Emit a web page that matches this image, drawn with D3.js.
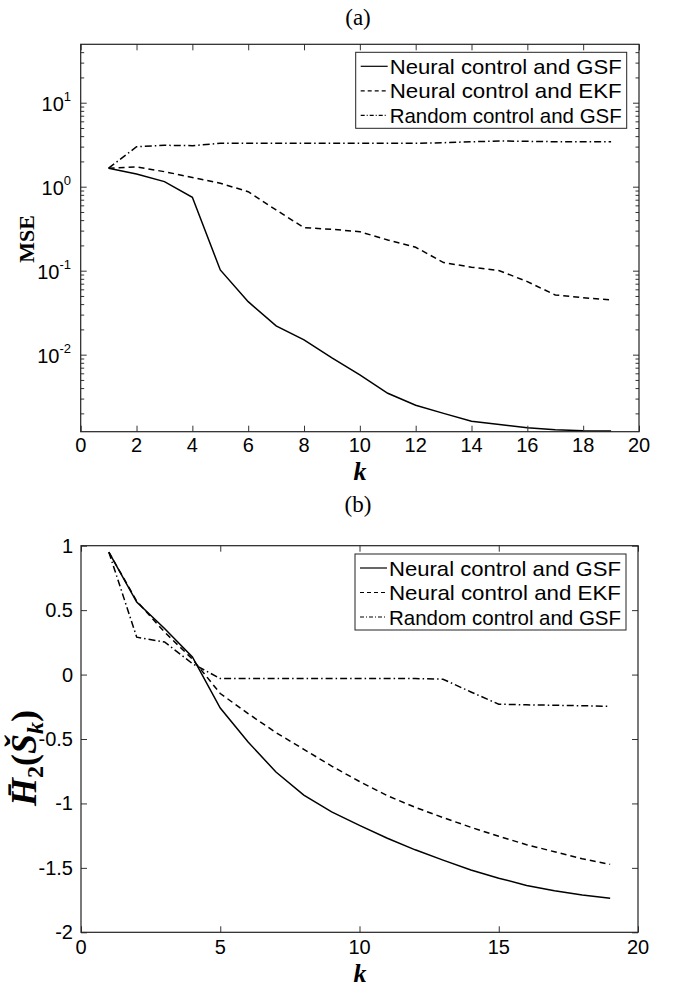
<!DOCTYPE html>
<html>
<head>
<meta charset="utf-8">
<script src="https://cdn.jsdelivr.net/npm/d3@7"></script>
<style>
  body { margin: 0; background: #fff; }
  svg { display: block; }
</style>
</head>
<body>
<div id="chart"></div>
<script>
// ── Data ────────────────────────────────────────────────────
const steps = d3.range(1, 20);   // k = 1..19

// panel (a): MSE
const mseNeuralGSF = [1.66, 1.42, 1.15, 0.748, 0.102, 0.0428, 0.022, 0.015, 0.00914, 0.00573,
                      0.00347, 0.0025, 0.002, 0.00161, 0.00147, 0.00135, 0.00128, 0.00124, 0.00123];
const mseNeuralEKF = [1.66, 1.72, 1.51, 1.29, 1.10, 0.872, 0.528, 0.325, 0.311, 0.291,
                      0.232, 0.19, 0.125, 0.11, 0.1, 0.074, 0.0514, 0.0477, 0.0448];
const mseRandomGSF = [1.66, 2.99, 3.11, 3.08, 3.29, 3.29, 3.29, 3.29, 3.29, 3.29,
                      3.29, 3.29, 3.34, 3.43, 3.5, 3.47, 3.43, 3.43, 3.43];

// panel (b): H2(S_k)
const hNeuralGSF = [0.95, 0.563, 0.357, 0.137, -0.26, -0.523, -0.756, -0.935, -1.065, -1.17,
                    -1.27, -1.36, -1.44, -1.517, -1.58, -1.636, -1.677, -1.71, -1.736];
const hNeuralEKF = [0.95, 0.57, 0.33, 0.12, -0.147, -0.303, -0.45, -0.58, -0.71, -0.83,
                    -0.94, -1.03, -1.11, -1.185, -1.255, -1.32, -1.375, -1.43, -1.473];
const hRandomGSF = [0.95, 0.29, 0.253, 0.085, -0.031, -0.031, -0.031, -0.031, -0.031, -0.031,
                    -0.031, -0.031, -0.036, -0.135, -0.23, -0.235, -0.238, -0.242, -0.246];

const legendLabels = ['Neural control and GSF', 'Neural control and EKF', 'Random control and GSF'];
const dashes = [null, '6,4', '7,3,1.5,3'];

const xTicksA = d3.range(0, 21, 2);
const yTicksA = [1e-2, 1e-1, 1e0, 1e1];
const xTicksB = [0, 5, 10, 15, 20];
const yTicksB = [-2, -1.5, -1, -0.5, 0, 0.5, 1];

// ── Layout ──────────────────────────────────────────────────
const width = 674, height = 990;
const sans  = '"Liberation Sans", Arial, sans-serif';
const serif = '"Liberation Serif", "Times New Roman", serif';

const svg = d3.select('#chart').append('svg')
  .attr('width', width).attr('height', height);

function styleAxis(g) {
  g.select('.domain').remove();
  g.selectAll('.tick line').attr('stroke', '#333').attr('stroke-width', 1);
}

function drawPanel(opt) {
  const { left, right, top, bottom, x, y, series } = opt;

  const g = svg.append('g');

  // lines
  series.forEach((vals, i) => {
    const line = d3.line()
      .x((d, j) => x(steps[j]))
      .y(d => y(d));
    g.append('path')
      .datum(vals)
      .attr('fill', 'none')
      .attr('stroke', '#000')
      .attr('stroke-width', 1.5)
      .attr('stroke-dasharray', dashes[i])
      .attr('d', line);
  });

  // inward ticks on all four sides
  g.append('g').attr('transform', `translate(0,${bottom})`)
    .call(d3.axisBottom(x).tickValues(opt.xTicks).tickSize(-6).tickFormat(''))
    .call(styleAxis);
  g.append('g').attr('transform', `translate(0,${top})`)
    .call(d3.axisTop(x).tickValues(opt.xTicks).tickSize(-6).tickFormat(''))
    .call(styleAxis);
  g.append('g').attr('transform', `translate(${left},0)`)
    .call(d3.axisLeft(y).tickValues(opt.yTicks).tickSize(-6).tickFormat(''))
    .call(styleAxis);
  g.append('g').attr('transform', `translate(${right},0)`)
    .call(d3.axisRight(y).tickValues(opt.yTicks).tickSize(-6).tickFormat(''))
    .call(styleAxis);

  if (opt.minor) {
    g.append('g').attr('transform', `translate(${left},0)`)
      .call(d3.axisLeft(y).tickValues(opt.minor).tickSize(-3.5).tickFormat(''))
      .call(styleAxis);
    g.append('g').attr('transform', `translate(${right},0)`)
      .call(d3.axisRight(y).tickValues(opt.minor).tickSize(-3.5).tickFormat(''))
      .call(styleAxis);
  }

  // box
  g.append('rect')
    .attr('x', left).attr('y', top)
    .attr('width', right - left).attr('height', bottom - top)
    .attr('fill', 'none').attr('stroke', '#222').attr('stroke-width', 1.2);

  // x tick labels
  g.selectAll('.xl').data(opt.xTicks).join('text')
    .attr('x', d => x(d)).attr('y', bottom + opt.xLabelGap)
    .attr('text-anchor', 'middle')
    .attr('font-family', sans).attr('font-size', 20)
    .text(d => d);

  // legend
  const lg = g.append('g').attr('transform', `translate(${opt.legend[0]},${opt.legend[1]})`);
  lg.append('rect')
    .attr('width', 271).attr('height', 76)
    .attr('fill', '#fff').attr('stroke', '#222').attr('stroke-width', 1);
  legendLabels.forEach((lab, i) => {
    const cy = 14 + i * 24.5;
    lg.append('line')
      .attr('x1', 5).attr('x2', 32)
      .attr('y1', cy).attr('y2', cy)
      .attr('stroke', '#000').attr('stroke-width', 1.2)
      .attr('stroke-dasharray', i === 0 ? null : (i === 1 ? '4,3' : '4,2,1,2'));
    lg.append('text')
      .attr('x', 34).attr('y', cy + 7.5)
      .attr('font-family', sans).attr('font-size', 21)
      .attr('textLength', 232).attr('lengthAdjust', 'spacingAndGlyphs')
      .text(lab);
  });

  // panel caption and x label
  svg.append('text')
    .attr('x', 358).attr('y', opt.caption)
    .attr('text-anchor', 'middle')
    .attr('font-family', serif).attr('font-size', 23)
    .text(opt.captionText);
  svg.append('text')
    .attr('x', 360).attr('y', bottom + opt.kGap)
    .attr('text-anchor', 'middle')
    .attr('font-family', serif).attr('font-size', 26)
    .attr('font-style', 'italic').attr('font-weight', 'bold')
    .text('k');

  return g;
}

// ── Panel (a) ───────────────────────────────────────────────
const xA = d3.scaleLinear().domain([0, 20]).range([80.7, 639]);
const yA = d3.scaleLog().domain([0.00121, 49.6]).range([431.7, 44.3]);

const minorA = [];
[1e-3, 1e-2, 1e-1, 1e0, 1e1].forEach(dec => {
  for (let m = 2; m <= 9; m++) {
    const v = m * dec;
    if (v > yA.domain()[0] && v < yA.domain()[1]) minorA.push(v);
  }
});

const gA = drawPanel({
  left: 80.7, right: 639, top: 44.3, bottom: 431.7,
  x: xA, y: yA,
  series: [mseNeuralGSF, mseNeuralEKF, mseRandomGSF],
  xTicks: xTicksA, yTicks: yTicksA, minor: minorA,
  legend: [355.7, 52.3], caption: 25, captionText: '(a)',
  xLabelGap: 20, kGap: 48
});

// log tick labels 10^n
yTicksA.forEach(v => {
  const t = gA.append('text')
    .attr('x', 71).attr('y', yA(v) + 8)
    .attr('text-anchor', 'end')
    .attr('font-family', sans).attr('font-size', 20);
  t.append('tspan').text('10');
  t.append('tspan').attr('dy', -10).attr('font-size', 13).text(Math.round(Math.log10(v)));
});

svg.append('text')
  .attr('transform', `translate(34,239) rotate(-90)`)
  .attr('text-anchor', 'middle')
  .attr('font-family', serif).attr('font-size', 22).attr('font-weight', 'bold')
  .text('MSE');

// ── Panel (b) ───────────────────────────────────────────────
const xB = d3.scaleLinear().domain([0, 20]).range([81, 638]);
const yB = d3.scaleLinear().domain([-2, 1]).range([932.3, 545.7]);

const gB = drawPanel({
  left: 81, right: 638, top: 545.7, bottom: 932.3,
  x: xB, y: yB,
  series: [hNeuralGSF, hNeuralEKF, hRandomGSF],
  xTicks: xTicksB, yTicks: yTicksB, minor: null,
  legend: [355, 554], caption: 512, captionText: '(b)',
  xLabelGap: 22, kGap: 50
});

gB.selectAll('.yl').data(yTicksB).join('text')
  .attr('x', 73).attr('y', d => yB(d) + 7)
  .attr('text-anchor', 'end')
  .attr('font-family', sans).attr('font-size', 20)
  .text(d => d);

const yl = svg.append('text')
  .attr('transform', `translate(36,758) rotate(-90)`)
  .attr('text-anchor', 'middle')
  .attr('font-family', serif).attr('font-size', 36)
  .attr('font-style', 'italic').attr('font-weight', 'bold');
yl.append('tspan').text('H\u0304');
yl.append('tspan').attr('font-size', 24).attr('dy', 7).attr('font-style', 'normal').text('2');
yl.append('tspan').attr('dy', -7).attr('font-style', 'normal').text('(');
yl.append('tspan').text('S\u030C');
yl.append('tspan').attr('font-size', 24).attr('dy', 7).text('k');
yl.append('tspan').attr('dy', -7).attr('font-style', 'normal').text(')');
</script>
</body>
</html>
